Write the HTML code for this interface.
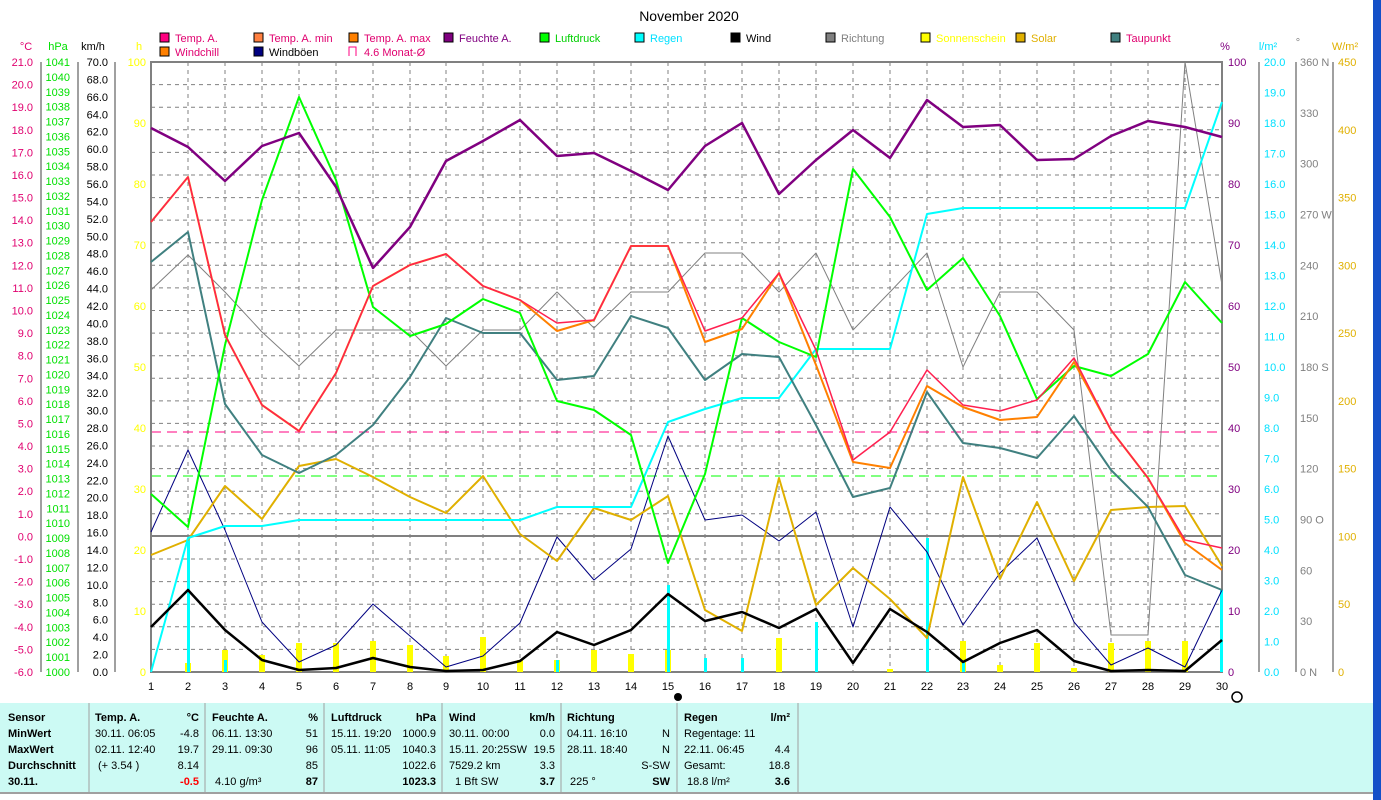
<!DOCTYPE html>
<html><head><meta charset="utf-8"><style>
body{margin:0;width:1381px;height:800px;background:#fff;overflow:hidden;font-family:"Liberation Sans",sans-serif}
svg{position:absolute;left:0;top:0}
text{font-family:"Liberation Sans",sans-serif;font-size:11px}
</style></head><body>
<svg width="1381" height="800" viewBox="0 0 1381 800">
<rect x="1373" y="0" width="8" height="800" fill="#1450c8"/>
<text x="689" y="21" text-anchor="middle" style="font-size:14px">November 2020</text>
<!-- legend -->
<g stroke="#000" stroke-width="1">
<rect x="160" y="33" width="9" height="9" fill="#ff0080"/>
<rect x="254" y="33" width="9" height="9" fill="#ff8040"/>
<rect x="349" y="33" width="9" height="9" fill="#ff8000"/>
<rect x="444" y="33" width="9" height="9" fill="#800080"/>
<rect x="540" y="33" width="9" height="9" fill="#00ff00"/>
<rect x="635" y="33" width="9" height="9" fill="#00ffff"/>
<rect x="731" y="33" width="9" height="9" fill="#000"/>
<rect x="826" y="33" width="9" height="9" fill="#808080"/>
<rect x="921" y="33" width="9" height="9" fill="#ffff00"/>
<rect x="1016" y="33" width="9" height="9" fill="#e0b000"/>
<rect x="1111" y="33" width="9" height="9" fill="#408080"/>
<rect x="160" y="47" width="9" height="9" fill="#ff8000"/>
<rect x="254" y="47" width="9" height="9" fill="#000080"/>
</g>
<path d="M349 56V47h7v9" fill="none" stroke="#ff0080"/>
<g>
<text x="175" y="42" fill="#e0006f">Temp. A.</text>
<text x="269" y="42" fill="#e0006f">Temp. A. min</text>
<text x="364" y="42" fill="#e0006f">Temp. A. max</text>
<text x="459" y="42" fill="#800080">Feuchte A.</text>
<text x="555" y="42" fill="#00d000">Luftdruck</text>
<text x="650" y="42" fill="#00e0ff">Regen</text>
<text x="746" y="42" fill="#000">Wind</text>
<text x="841" y="42" fill="#808080">Richtung</text>
<text x="936" y="42" fill="#ffff00">Sonnenschein</text>
<text x="1031" y="42" fill="#e0b000">Solar</text>
<text x="1126" y="42" fill="#e0006f">Taupunkt</text>
<text x="175" y="56" fill="#e0006f">Windchill</text>
<text x="269" y="56" fill="#000">Windböen</text>
<text x="364" y="56" fill="#e0006f">4.6 Monat-Ø</text>
</g>
<!-- units -->
<text x="26" y="50" text-anchor="middle" fill="#e0006f">°C</text>
<text x="58" y="50" text-anchor="middle" fill="#00e000">hPa</text>
<text x="93" y="50" text-anchor="middle">km/h</text>
<text x="139" y="50" text-anchor="middle" fill="#ffff00">h</text>
<text x="1225" y="50" text-anchor="middle" fill="#800080">%</text>
<text x="1268" y="50" text-anchor="middle" fill="#00e0ff">l/m²</text>
<text x="1298" y="46" text-anchor="middle" fill="#808080">°</text>
<text x="1345" y="50" text-anchor="middle" fill="#e0b000">W/m²</text>
<!-- grid -->
<g stroke="#808080" stroke-dasharray="4,4" stroke-width="1">
<path d="M188 62V672M225 62V672M262 62V672M299 62V672M336 62V672M373 62V672M410 62V672M446 62V672M483 62V672M520 62V672M557 62V672M594 62V672M631 62V672M668 62V672M705 62V672M742 62V672M779 62V672M816 62V672M853 62V672M890 62V672M927 62V672M963 62V672M1000 62V672M1037 62V672M1074 62V672M1111 62V672M1148 62V672M1185 62V672"/>
<path d="M151 84.6H1222M151 107.2H1222M151 129.8H1222M151 152.4H1222M151 175H1222M151 197.6H1222M151 220.1H1222M151 242.7H1222M151 265.3H1222M151 287.9H1222M151 310.5H1222M151 333.1H1222M151 355.7H1222M151 378.3H1222M151 400.9H1222M151 423.4H1222M151 446H1222M151 468.6H1222M151 491.2H1222M151 513.8H1222M151 559H1222M151 581.6H1222M151 604.2H1222M151 626.8H1222M151 649.4H1222"/>
</g>
<path d="M151 432H1222" stroke="#ff0080" stroke-dasharray="10,6"/>
<path d="M151 476H1222" stroke="#00ff00" stroke-dasharray="10,6"/>
<path d="M151 536H1222" stroke="#808080" stroke-width="2"/>
<!-- frame & axes -->
<g stroke="#808080" stroke-width="2" fill="none">
<rect x="151" y="62" width="1071" height="610"/>
</g>
<g stroke="#808080" stroke-width="1.5">
<path d="M41 62V672M78 62V672M115 62V672M1259 62V672M1296 62V672M1333 62V672"/>
</g>
<!-- bars -->
<g fill="#ffff00">
<rect x="185" y="663" width="6" height="9"/><rect x="222" y="650" width="6" height="22"/><rect x="259" y="655" width="6" height="17"/><rect x="296" y="643" width="6" height="29"/><rect x="333" y="643" width="6" height="29"/><rect x="370" y="641" width="6" height="31"/><rect x="407" y="645" width="6" height="27"/><rect x="443" y="656" width="6" height="16"/><rect x="480" y="637" width="6" height="35"/><rect x="517" y="660" width="6" height="12"/><rect x="554" y="660" width="6" height="12"/><rect x="591" y="650" width="6" height="22"/><rect x="628" y="654" width="6" height="18"/><rect x="665" y="650" width="6" height="22"/><rect x="776" y="638" width="6" height="34"/><rect x="960" y="641" width="6" height="31"/><rect x="997" y="665" width="6" height="7"/><rect x="1034" y="643" width="6" height="29"/><rect x="1071" y="668" width="6" height="4"/><rect x="1108" y="643" width="6" height="29"/><rect x="1145" y="641" width="6" height="31"/><rect x="1182" y="641" width="6" height="31"/><rect x="887" y="669" width="6" height="3"/>
</g>
<g fill="#00ffff">
<rect x="187" y="538" width="3" height="134"/><rect x="224" y="660" width="3" height="12"/><rect x="556" y="660" width="3" height="12"/><rect x="667" y="585" width="3" height="87"/><rect x="704" y="658" width="3" height="14"/><rect x="741" y="658" width="3" height="14"/><rect x="815" y="622" width="3" height="50"/><rect x="926" y="538" width="3" height="134"/><rect x="962" y="662" width="3" height="10"/><rect x="1220" y="590" width="3" height="82"/>
</g>
<!-- series -->
<g fill="none" stroke-linejoin="round">
<polyline stroke="#808080" stroke-width="1" points="151,290 188,255 225,292 262,332 299,366 336,330 373,330 410,330 446,366 483,330 520,330 557,292 594,328 631,292 668,292 705,253 742,253 779,292 816,253 853,330 890,292 927,253 963,367 1000,292 1037,292 1074,330 1111,635 1148,635 1185,62 1222,285"/>
<polyline stroke="#000080" stroke-width="1" points="151,532 188,450 225,530 262,622 299,662 336,645 373,604 410,636 446,667 483,656 520,623 557,537 594,580 631,549 668,436 705,520 742,515 779,541 816,512 853,627 890,507 927,552 963,625 1000,573 1037,538 1074,622 1111,665 1148,648 1185,667 1222,590"/>
<polyline stroke="#e0b000" stroke-width="2" points="151,555 188,540 225,486 262,519 299,466 336,459 373,477 410,497 446,513 483,476 520,534 557,561 594,508 631,520 668,496 705,610 742,631 779,478 816,605 853,568 890,599 927,638 963,477 1000,579 1037,502 1074,581 1111,510 1148,507 1185,506 1222,566"/>
<polyline stroke="#00ffff" stroke-width="2" points="151,672 188,538 225,526 262,526 299,520 336,520 373,520 410,520 446,520 483,520 520,520 557,507 594,507 631,507 668,422 705,409 742,398 779,398 816,349 853,349 890,349 927,214 963,208 1000,208 1037,208 1074,208 1111,208 1148,208 1185,208 1222,102"/>
<polyline stroke="#000" stroke-width="2.5" points="151,627 188,590 225,630 262,660 299,670 336,668 373,658 410,667 446,671 483,670 520,661 557,632 594,645 631,630 668,594 705,621 742,612 779,628 816,609 853,663 890,609 927,632 963,662 1000,643 1037,630 1074,661 1111,671 1148,670 1185,671 1222,640"/>
<polyline stroke="#408080" stroke-width="2" points="151,262 188,232 225,404 262,455 299,473 336,455 373,425 410,377 446,318 483,333 520,333 557,380 594,376 631,316 668,328 705,380 742,354 779,357 816,425 853,497 890,488 927,392 963,443 1000,448 1037,458 1074,416 1111,470 1148,507 1185,575 1222,590"/>
<polyline stroke="#00ff00" stroke-width="2" points="151,494 188,527 225,345 262,200 299,97 336,180 373,307 410,336 446,324 483,299 520,313 557,401 594,410 631,435 668,563 705,474 742,318 779,342 816,357 853,169 890,217 927,290 963,258 1000,316 1037,399 1074,366 1111,376 1148,354 1185,282 1222,323"/>
<polyline stroke="#800080" stroke-width="2.5" points="151,128 188,147 225,181 262,146 299,133 336,187 373,268 410,227 446,161 483,141 520,120 557,156 594,153 631,171 668,190 705,146 742,123 779,194 816,160 853,130 890,158 927,100 963,127 1000,125 1037,160 1074,159 1111,136 1148,121 1185,127 1222,137"/>
<polyline stroke="#ff8000" stroke-width="2" points="151,222 188,177 225,335 262,405 299,431 336,373 373,286 410,265 446,254 483,286 520,300 557,331 594,320 631,246 668,246 705,342 742,329 779,273 816,365 853,462 890,468 927,386 963,407 1000,420 1037,417 1074,362 1111,430 1148,478 1185,543 1222,570"/>
<polyline stroke="#ff2050" stroke-width="1.5" points="151,222 188,177 225,335 262,405 299,431 336,373 373,286 410,265 446,254 483,286 520,300 557,323 594,320 631,246 668,246 705,331 742,318 779,273 816,350 853,460 890,432 927,370 963,405 1000,411 1037,400 1074,358 1111,430 1148,478 1185,540 1222,548"/>
</g>
<!-- left labels -->
<g fill="#e0006f" text-anchor="end">
<text x="33" y="66">21.0</text><text x="33" y="88.6">20.0</text><text x="33" y="111.2">19.0</text><text x="33" y="133.8">18.0</text><text x="33" y="156.4">17.0</text><text x="33" y="179">16.0</text><text x="33" y="201.6">15.0</text><text x="33" y="224.1">14.0</text><text x="33" y="246.7">13.0</text><text x="33" y="269.3">12.0</text><text x="33" y="291.9">11.0</text><text x="33" y="314.5">10.0</text><text x="33" y="337.1">9.0</text><text x="33" y="359.7">8.0</text><text x="33" y="382.3">7.0</text><text x="33" y="404.9">6.0</text><text x="33" y="427.4">5.0</text><text x="33" y="450">4.0</text><text x="33" y="472.6">3.0</text><text x="33" y="495.2">2.0</text><text x="33" y="517.8">1.0</text><text x="33" y="540.4">0.0</text><text x="33" y="563">-1.0</text><text x="33" y="585.6">-2.0</text><text x="33" y="608.2">-3.0</text><text x="33" y="630.8">-4.0</text><text x="33" y="653.4">-5.0</text><text x="33" y="676">-6.0</text>
</g>
<g fill="#00e000" text-anchor="end" style="font-size:10.5px">
<text x="70" y="676">1000</text><text x="70" y="661.1">1001</text><text x="70" y="646.2">1002</text><text x="70" y="631.4">1003</text><text x="70" y="616.5">1004</text><text x="70" y="601.6">1005</text><text x="70" y="586.7">1006</text><text x="70" y="571.9">1007</text><text x="70" y="557">1008</text><text x="70" y="542.1">1009</text><text x="70" y="527.2">1010</text><text x="70" y="512.3">1011</text><text x="70" y="497.5">1012</text><text x="70" y="482.6">1013</text><text x="70" y="467.7">1014</text><text x="70" y="452.8">1015</text><text x="70" y="437.9">1016</text><text x="70" y="423.1">1017</text><text x="70" y="408.2">1018</text><text x="70" y="393.3">1019</text><text x="70" y="378.4">1020</text><text x="70" y="363.6">1021</text><text x="70" y="348.7">1022</text><text x="70" y="333.8">1023</text><text x="70" y="318.9">1024</text><text x="70" y="304">1025</text><text x="70" y="289.2">1026</text><text x="70" y="274.3">1027</text><text x="70" y="259.4">1028</text><text x="70" y="244.5">1029</text><text x="70" y="229.7">1030</text><text x="70" y="214.8">1031</text><text x="70" y="199.9">1032</text><text x="70" y="185">1033</text><text x="70" y="170.1">1034</text><text x="70" y="155.3">1035</text><text x="70" y="140.4">1036</text><text x="70" y="125.5">1037</text><text x="70" y="110.6">1038</text><text x="70" y="95.8">1039</text><text x="70" y="80.9">1040</text><text x="70" y="66">1041</text>
</g>
<g fill="#000" text-anchor="end">
<text x="108" y="66">70.0</text><text x="108" y="83.4">68.0</text><text x="108" y="100.9">66.0</text><text x="108" y="118.3">64.0</text><text x="108" y="135.7">62.0</text><text x="108" y="153.1">60.0</text><text x="108" y="170.6">58.0</text><text x="108" y="188">56.0</text><text x="108" y="205.4">54.0</text><text x="108" y="222.9">52.0</text><text x="108" y="240.3">50.0</text><text x="108" y="257.7">48.0</text><text x="108" y="275.1">46.0</text><text x="108" y="292.6">44.0</text><text x="108" y="310">42.0</text><text x="108" y="327.4">40.0</text><text x="108" y="344.9">38.0</text><text x="108" y="362.3">36.0</text><text x="108" y="379.7">34.0</text><text x="108" y="397.1">32.0</text><text x="108" y="414.6">30.0</text><text x="108" y="432">28.0</text><text x="108" y="449.4">26.0</text><text x="108" y="466.9">24.0</text><text x="108" y="484.3">22.0</text><text x="108" y="501.7">20.0</text><text x="108" y="519.1">18.0</text><text x="108" y="536.6">16.0</text><text x="108" y="554">14.0</text><text x="108" y="571.4">12.0</text><text x="108" y="588.9">10.0</text><text x="108" y="606.3">8.0</text><text x="108" y="623.7">6.0</text><text x="108" y="641.1">4.0</text><text x="108" y="658.6">2.0</text><text x="108" y="676">0.0</text>
</g>
<g fill="#ffff00" text-anchor="end">
<text x="146" y="66">100</text><text x="146" y="127">90</text><text x="146" y="188">80</text><text x="146" y="249">70</text><text x="146" y="310">60</text><text x="146" y="371">50</text><text x="146" y="432">40</text><text x="146" y="493">30</text><text x="146" y="554">20</text><text x="146" y="615">10</text><text x="146" y="676">0</text>
</g>
<!-- right labels -->
<g fill="#800080">
<text x="1228" y="66">100</text><text x="1228" y="127">90</text><text x="1228" y="188">80</text><text x="1228" y="249">70</text><text x="1228" y="310">60</text><text x="1228" y="371">50</text><text x="1228" y="432">40</text><text x="1228" y="493">30</text><text x="1228" y="554">20</text><text x="1228" y="615">10</text><text x="1228" y="676">0</text>
</g>
<g fill="#00e0ff">
<text x="1264" y="66">20.0</text><text x="1264" y="96.5">19.0</text><text x="1264" y="127">18.0</text><text x="1264" y="157.5">17.0</text><text x="1264" y="188">16.0</text><text x="1264" y="218.5">15.0</text><text x="1264" y="249">14.0</text><text x="1264" y="279.5">13.0</text><text x="1264" y="310">12.0</text><text x="1264" y="340.5">11.0</text><text x="1264" y="371">10.0</text><text x="1264" y="401.5">9.0</text><text x="1264" y="432">8.0</text><text x="1264" y="462.5">7.0</text><text x="1264" y="493">6.0</text><text x="1264" y="523.5">5.0</text><text x="1264" y="554">4.0</text><text x="1264" y="584.5">3.0</text><text x="1264" y="615">2.0</text><text x="1264" y="645.5">1.0</text><text x="1264" y="676">0.0</text>
</g>
<g fill="#808080">
<text x="1300" y="66">360 N</text><text x="1300" y="116.8">330</text><text x="1300" y="167.7">300</text><text x="1300" y="218.5">270 W</text><text x="1300" y="269.3">240</text><text x="1300" y="320.2">210</text><text x="1300" y="371">180 S</text><text x="1300" y="421.8">150</text><text x="1300" y="472.7">120</text><text x="1300" y="523.5">90  O</text><text x="1300" y="574.3">60</text><text x="1300" y="625.2">30</text><text x="1300" y="676">0    N</text>
</g>
<g fill="#e0b000">
<text x="1338" y="66">450</text><text x="1338" y="133.8">400</text><text x="1338" y="201.6">350</text><text x="1338" y="269.3">300</text><text x="1338" y="337.1">250</text><text x="1338" y="404.9">200</text><text x="1338" y="472.7">150</text><text x="1338" y="540.4">100</text><text x="1338" y="608.2">50</text><text x="1338" y="676">0</text>
</g>
<!-- x labels -->
<g text-anchor="middle" style="font-size:12px">
<text x="151" y="690">1</text><text x="188" y="690">2</text><text x="225" y="690">3</text><text x="262" y="690">4</text><text x="299" y="690">5</text><text x="336" y="690">6</text><text x="373" y="690">7</text><text x="410" y="690">8</text><text x="446" y="690">9</text><text x="483" y="690">10</text><text x="520" y="690">11</text><text x="557" y="690">12</text><text x="594" y="690">13</text><text x="631" y="690">14</text><text x="668" y="690">15</text><text x="705" y="690">16</text><text x="742" y="690">17</text><text x="779" y="690">18</text><text x="816" y="690">19</text><text x="853" y="690">20</text><text x="890" y="690">21</text><text x="927" y="690">22</text><text x="963" y="690">23</text><text x="1000" y="690">24</text><text x="1037" y="690">25</text><text x="1074" y="690">26</text><text x="1111" y="690">27</text><text x="1148" y="690">28</text><text x="1185" y="690">29</text><text x="1222" y="690">30</text>
</g>
<circle cx="678" cy="697" r="4" fill="#000"/>
<circle cx="1237" cy="697" r="5" fill="none" stroke="#000" stroke-width="1.5"/>
<!-- table -->
<rect x="0" y="703" width="1373" height="89" fill="#ccfaf4"/>
<path d="M0 793H1373" stroke="#a0a0a0" stroke-width="2"/>
<g stroke="#a0a0a0"><path d="M89 703V792M205 703V792M324 703V792M442 703V792M561 703V792M677 703V792M798 703V792"/></g>
<g style="font-size:11px">
<g font-weight="bold"><text x="8" y="721">Sensor</text><text x="8" y="737">MinWert</text><text x="8" y="753">MaxWert</text><text x="8" y="769">Durchschnitt</text><text x="8" y="785">30.11.</text>
<text x="95" y="721">Temp. A.</text><text x="199" y="721" text-anchor="end">°C</text>
<text x="212" y="721">Feuchte A.</text><text x="318" y="721" text-anchor="end">%</text>
<text x="331" y="721">Luftdruck</text><text x="436" y="721" text-anchor="end">hPa</text>
<text x="449" y="721">Wind</text><text x="555" y="721" text-anchor="end">km/h</text>
<text x="567" y="721">Richtung</text>
<text x="684" y="721">Regen</text><text x="790" y="721" text-anchor="end">l/m²</text>
<text x="199" y="785" text-anchor="end" fill="#ff0000">-0.5</text><text x="318" y="785" text-anchor="end">87</text><text x="436" y="785" text-anchor="end">1023.3</text><text x="555" y="785" text-anchor="end">3.7</text><text x="670" y="785" text-anchor="end">SW</text><text x="790" y="785" text-anchor="end">3.6</text>
</g>
<text x="95" y="737">30.11.  06:05</text><text x="199" y="737" text-anchor="end">-4.8</text>
<text x="95" y="753">02.11.  12:40</text><text x="199" y="753" text-anchor="end">19.7</text>
<text x="98" y="769">(+ 3.54 )</text><text x="199" y="769" text-anchor="end">8.14</text>
<text x="212" y="737">06.11.  13:30</text><text x="318" y="737" text-anchor="end">51</text>
<text x="212" y="753">29.11.  09:30</text><text x="318" y="753" text-anchor="end">96</text>
<text x="318" y="769" text-anchor="end">85</text><text x="215" y="785">4.10 g/m³</text>
<text x="331" y="737">15.11.  19:20</text><text x="436" y="737" text-anchor="end">1000.9</text>
<text x="331" y="753">05.11.  11:05</text><text x="436" y="753" text-anchor="end">1040.3</text>
<text x="436" y="769" text-anchor="end">1022.6</text>
<text x="449" y="737">30.11.  00:00</text><text x="555" y="737" text-anchor="end">0.0</text>
<text x="449" y="753">15.11.  20:25SW</text><text x="555" y="753" text-anchor="end">19.5</text>
<text x="449" y="769">7529.2 km</text><text x="555" y="769" text-anchor="end">3.3</text>
<text x="455" y="785">1 Bft SW</text>
<text x="567" y="737">04.11.  16:10</text><text x="670" y="737" text-anchor="end">N</text>
<text x="567" y="753">28.11.  18:40</text><text x="670" y="753" text-anchor="end">N</text>
<text x="670" y="769" text-anchor="end">S-SW</text><text x="570" y="785">225 °</text>
<text x="684" y="737">Regentage: 11</text>
<text x="684" y="753">22.11.  06:45</text><text x="790" y="753" text-anchor="end">4.4</text>
<text x="684" y="769">Gesamt:</text><text x="790" y="769" text-anchor="end">18.8</text>
<text x="687" y="785">18.8 l/m²</text>
</g>
</svg>
</body></html>
